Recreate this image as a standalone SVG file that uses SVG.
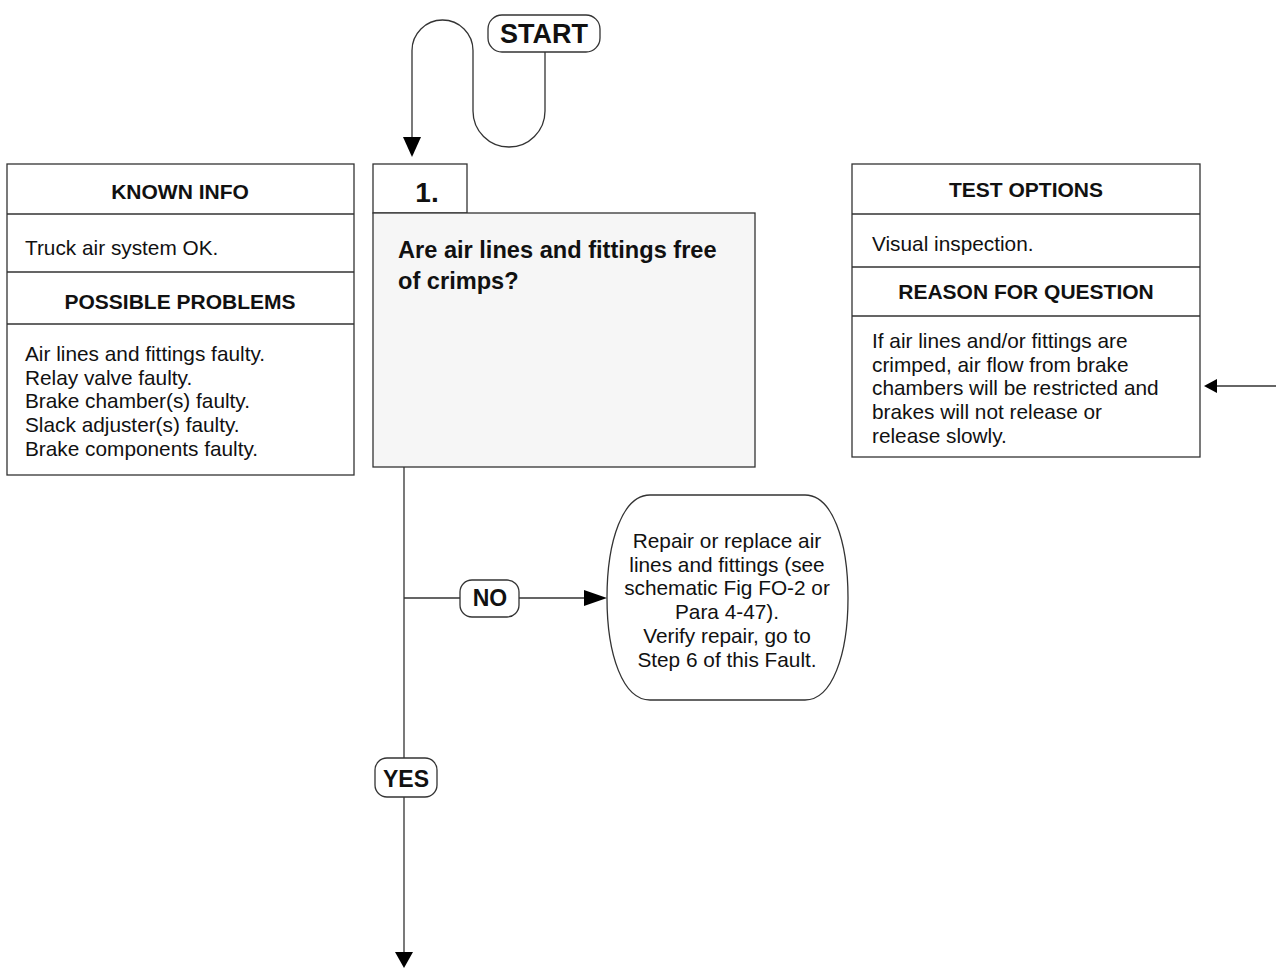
<svg xmlns="http://www.w3.org/2000/svg" width="1276" height="968" viewBox="0 0 1276 968">
<style>
.box{fill:#fff;stroke:#333;stroke-width:1.3}
.q{fill:#f6f6f6;stroke:#333;stroke-width:1.3}
.ln{fill:none;stroke:#333;stroke-width:1.3}
.t{font-family:"Liberation Sans",Arial,sans-serif;font-size:20.8px;fill:#111}
.h{font-family:"Liberation Sans",Arial,sans-serif;font-size:21px;font-weight:bold;fill:#111;text-anchor:middle}
.b{font-family:"Liberation Sans",Arial,sans-serif;font-weight:bold;fill:#111}
.c{text-anchor:middle}
</style>
<rect width="1276" height="968" fill="#fff"/>
<g id="connectors">
<path class="ln" d="M545,52 V111 A36,36 0 0 1 473,111 V50.5 A30.5,30.5 0 0 0 412,50.5 V137"/>
<path d="M403,137 L421,137 L412,157 Z" fill="#000"/>
<path class="ln" d="M404,467 V758 M404,797 V952"/>
<path d="M395,952 L413,952 L404,968 Z" fill="#000"/>
<path class="ln" d="M404,598 H460 M519,598 H584"/>
<path d="M584,590 L607,598 L584,606 Z" fill="#000"/>
<path class="ln" d="M1276,386 H1217"/>
<path d="M1217,379 L1204,386 L1217,393 Z" fill="#000"/>
</g>
<g id="start">
<rect x="488" y="15" width="112" height="37" rx="14" class="box"/>
<text x="544" y="43" class="b c" font-size="27">START</text>
</g>
<g id="known-info">
<rect x="7" y="164" width="347" height="311" class="box"/>
<path class="ln" d="M7,214 H354 M7,272 H354 M7,324 H354"/>
<text x="180" y="199" class="h">KNOWN INFO</text>
<text x="25" y="255" class="t">Truck air system OK.</text>
<text x="180" y="309" class="h">POSSIBLE PROBLEMS</text>
<text class="t"><tspan x="25" y="361">Air lines and fittings faulty.</tspan><tspan x="25" y="384.7">Relay valve faulty.</tspan><tspan x="25" y="408.4">Brake chamber(s) faulty.</tspan><tspan x="25" y="432.1">Slack adjuster(s) faulty.</tspan><tspan x="25" y="455.8">Brake components faulty.</tspan></text>
</g>
<g id="step1">
<rect x="373" y="164" width="94" height="49" class="box"/>
<rect x="373" y="213" width="382" height="254" class="q"/>
<text x="427" y="202" class="b c" font-size="28">1.</text>
<text class="b" font-size="23.6"><tspan x="398" y="258">Are air lines and fittings free</tspan><tspan x="398" y="289">of crimps?</tspan></text>
</g>
<g id="test-options">
<rect x="852" y="164" width="348" height="293" class="box"/>
<path class="ln" d="M852,214 H1200 M852,267 H1200 M852,316 H1200"/>
<text x="1026" y="197" class="h">TEST OPTIONS</text>
<text x="872" y="251" class="t">Visual inspection.</text>
<text x="1026" y="299" class="h">REASON FOR QUESTION</text>
<text class="t"><tspan x="872" y="348">If air lines and/or fittings are</tspan><tspan x="872" y="371.7">crimped, air flow from brake</tspan><tspan x="872" y="395.4">chambers will be restricted and</tspan><tspan x="872" y="419.1">brakes will not release or</tspan><tspan x="872" y="442.8">release slowly.</tspan></text>
</g>
<g id="no-label">
<rect x="460" y="580" width="59" height="37" rx="12" class="box"/>
<text x="490" y="606" class="b c" font-size="23">NO</text>
</g>
<g id="repair">
<path class="box" d="M650,495 H805 C832,495 848,540 848,598 C848,655 832,700 805,700 H650 C623,700 607,655 607,598 C607,540 623,495 650,495 Z"/>
<text class="t c"><tspan x="727" y="548">Repair or replace air</tspan><tspan x="727" y="571.7">lines and fittings (see</tspan><tspan x="727" y="595.4">schematic Fig FO-2 or</tspan><tspan x="727" y="619.1">Para 4-47).</tspan><tspan x="727" y="642.8">Verify repair, go to</tspan><tspan x="727" y="666.5">Step 6 of this Fault.</tspan></text>
</g>
<g id="yes-label">
<rect x="375" y="758" width="62" height="39" rx="12" class="box"/>
<text x="406" y="787" class="b c" font-size="23">YES</text>
</g>
</svg>
